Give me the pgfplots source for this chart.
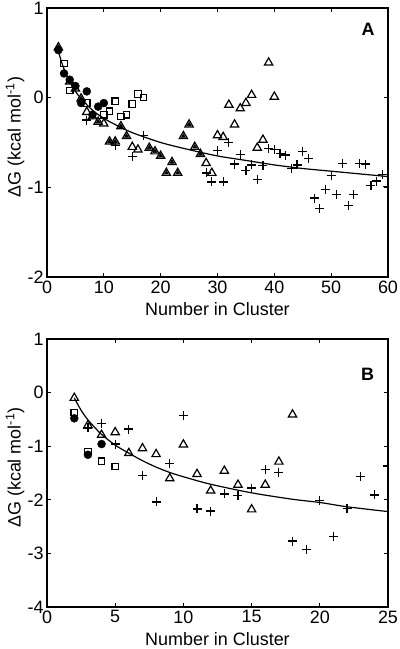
\documentclass[border=0pt]{standalone}
\usepackage{fontspec}
\setmainfont{Liberation Sans}
\usepackage{pgfplots}
\pgfplotsset{compat=1.18}
\pgfplotsset{
  panel/.style={
    scale only axis, width=341bp,
    axis line style={line width=1.1bp},
    tick style={line width=1bp, black},
    major tick length=4bp,
    tick align=inside,
    clip marker paths=true,
    /pgf/number format/assume math mode=true,
    ticklabel style={font=\fontsize{18}{20}\selectfont},
    label style={font=\fontsize{18}{20}\selectfont},
    xlabel={Number in Cluster},
    ylabel={ΔG (kcal mol\textsuperscript{-1})},
    xlabel style={at={(axis description cs:0.5,0)}, anchor=north, yshift=-22bp},
    ylabel style={at={(axis description cs:-0.094,0.52)}, anchor=center},
  },
  otri/.style={only marks, mark=triangle, mark size=4.8bp, mark options={line width=1.2bp, black}},
  ftri/.style={only marks, mark=triangle*, mark size=2.4bp, mark options={line width=0.6bp, black, fill=black}},
  osq/.style={only marks, mark=square, mark size=3.2bp, mark options={line width=1.2bp, black}},
  fcirc/.style={only marks, mark=*, mark size=4bp, mark options={black, fill=black}},
  pl/.style={only marks, mark=+, mark size=4.5bp, mark options={line width=1.2bp, black}},
  fit/.style={no marks, black, line width=1.2bp, smooth},
}
\begin{document}
\begin{tikzpicture}
\begin{axis}[panel, at={(0bp,0bp)}, anchor=south west, height=269bp,
  xmin=0, xmax=60, ymin=-2, ymax=1, xtick={0,10,...,60}, ytick={-2,-1,0,1}]
\addplot[pl] coordinates {(7,-0.25) (12,-0.53) (15,-0.66) (17,-0.42) (28,-0.84) (29,-0.94) (30,-0.59) (31,-0.94) (32,-0.50) (33,-0.74) (34,-0.63) (35,-0.81) (36,-0.75) (37,-0.91) (38,-0.76) (39,-0.57) (40,-0.58) (41,-0.62) (42,-0.64) (43,-0.79) (44,-0.75) (45,-0.60) (46,-0.68) (47,-1.12) (48,-1.24) (49,-1.02) (50,-0.87) (51,-1.08) (52,-0.73) (53,-1.20) (54,-1.08) (55,-0.73) (56,-0.74) (57,-0.98) (58,-0.93) (59,-0.86) (59.95,-0.99)};
\addplot[osq] coordinates {(3,0.38) (4,0.08) (7,-0.06) (10,-0.19) (11,-0.15) (12,-0.04) (13,-0.21) (14,-0.19) (15,-0.07) (16,0.04) (17,0.00)};
\addplot[otri] coordinates {(2,0.56) (4,0.18) (5,0.10) (6,-0.01) (7,-0.16) (8,-0.21) (9,-0.27) (10,-0.29) (11,-0.49) (12,-0.49) (13,-0.32) (14,-0.43) (15,-0.55) (16,-0.58) (18,-0.56) (19,-0.60) (20,-0.65) (21,-0.84) (22,-0.72) (23,-0.84) (24,-0.43) (25,-0.30) (26,-0.55) (27,-0.63) (28,-0.73) (29,-0.84) (30,-0.42) (31,-0.44) (32,-0.08) (33,-0.30) (34,-0.12) (35,-0.06) (36,0.03) (37,-0.56) (38,-0.47) (39,0.39) (40,0.01)};
\addplot[ftri] coordinates {(2,0.56) (4,0.18) (6,-0.01) (9,-0.27) (11,-0.49) (12,-0.49) (13,-0.32) (14,-0.43) (18,-0.56) (19,-0.60) (20,-0.65) (21,-0.84) (22,-0.72) (23,-0.84) (24,-0.43) (25,-0.30) (26,-0.55) (27,-0.63)};
\addplot[fcirc] coordinates {(2,0.53) (3,0.27) (4,0.20) (5,0.13) (6,-0.06) (7,0.07) (8,-0.19) (9,-0.10) (10,-0.06)};
\addplot[fit] coordinates {(1.8,0.58) (2,0.52) (2.5,0.41) (3,0.32) (4,0.18) (5,0.07) (6,-0.01) (8,-0.14) (10,-0.23) (12,-0.30) (15,-0.39) (20,-0.50) (25,-0.58) (30,-0.65) (35,-0.70) (40,-0.75) (45,-0.79) (50,-0.82) (55,-0.85) (60,-0.88)};
\node[font=\fontsize{18}{20}\selectfont\bfseries] at (axis cs:56.5,0.76) {A};
\end{axis}
\begin{axis}[panel, at={(0bp,-330bp)}, anchor=south west, height=268bp,
  xmin=0, xmax=25, ymin=-4, ymax=1, xtick={0,5,...,25}, ytick={-4,-3,-2,-1,0,1}]
\addplot[pl] coordinates {(3,-0.66) (4,-0.57) (5,-0.96) (6,-0.68) (7,-1.54) (8,-2.04) (9,-1.33) (10,-0.42) (11,-2.17) (12,-2.21) (13,-1.89) (14,-1.92) (15,-1.78) (16,-1.44) (17,-1.49) (18,-2.77) (19,-2.92) (20,-2.02) (21,-2.68) (22,-2.16) (23,-1.56) (24,-1.91) (24.98,-1.37)};
\addplot[osq] coordinates {(2,-0.37) (3,-1.10) (4,-1.28) (5,-1.38)};
\addplot[otri] coordinates {(2,-0.10) (3,-0.61) (4,-0.79) (5,-0.74) (6,-1.13) (7,-1.04) (8,-1.15) (9,-1.60) (10,-0.97) (11,-1.52) (12,-1.83) (13,-1.46) (14,-1.72) (15,-2.18) (16,-1.72) (17,-1.29) (18,-0.41)};
\addplot[fcirc] coordinates {(2,-0.48) (3,-1.16) (4,-0.96)};
\addplot[fit] coordinates {(2,-0.10) (2.5,-0.33) (3,-0.51) (3.5,-0.65) (4,-0.78) (5,-0.98) (6,-1.13) (7,-1.27) (8,-1.39) (9,-1.49) (10,-1.57) (12,-1.71) (15,-1.87) (18,-1.99) (20,-2.05) (22,-2.13) (25,-2.22)};
\node[font=\fontsize{18}{20}\selectfont\bfseries] at (axis cs:23.5,0.35) {B};
\end{axis}
\pgfresetboundingbox
\path (-47bp,-372bp) rectangle (353bp,277bp);
\end{tikzpicture}
\end{document}
